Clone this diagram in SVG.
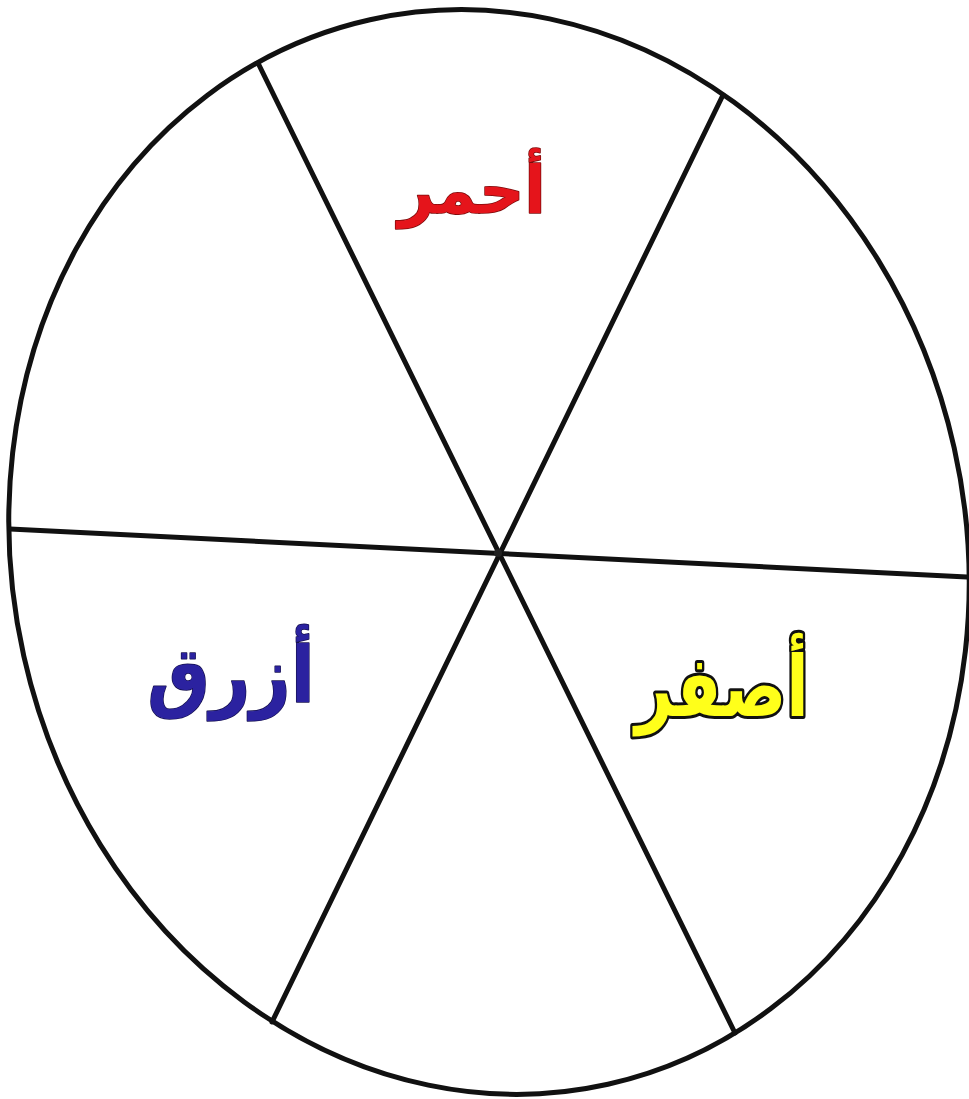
<svg xmlns="http://www.w3.org/2000/svg" width="969" height="1099" viewBox="0 0 969 1099">
<style>
.ln{stroke:#111;stroke-width:5;fill:none;stroke-linecap:round}
.lbl{font-family:"DejaVu Sans","Noto Sans",sans-serif;font-weight:bold;text-anchor:middle;direction:rtl;paint-order:stroke;stroke-linejoin:round}
</style>
<rect width="969" height="1099" fill="#fff"/>
<g id="wheel">
<ellipse class="ln" cx="489" cy="552" rx="476.7" ry="545.4" transform="rotate(-12.6 489 552)" stroke-width="6"/>
</g>
<g id="connectors">
<line class="ln" x1="10" y1="529" x2="967" y2="577"/>
<line class="ln" x1="258" y1="63" x2="735" y2="1033"/>
<line class="ln" x1="723" y1="95" x2="272" y2="1022"/>
<circle cx="498" cy="553" r="4" fill="#222"/>
</g>
<g id="red">
<text class="lbl" x="0" y="0" font-size="64" fill="#e5141b" stroke="#7a0a0a" stroke-width="1.5" transform="translate(472 213) scale(0.98 1.02)">أحمر</text>
</g>
<g id="yellow">
<text class="lbl" x="0" y="0" font-size="84" fill="#ffff1a" stroke="#111" stroke-width="6" transform="translate(722 716) scale(0.78 1)">أصفر</text>
</g>
<g id="blue">
<text class="lbl" x="0" y="0" font-size="78" fill="#2b22a0" stroke="#15104f" stroke-width="1.5" transform="translate(231 702) scale(0.9 1)">أزرق</text>
</g>
</svg>
